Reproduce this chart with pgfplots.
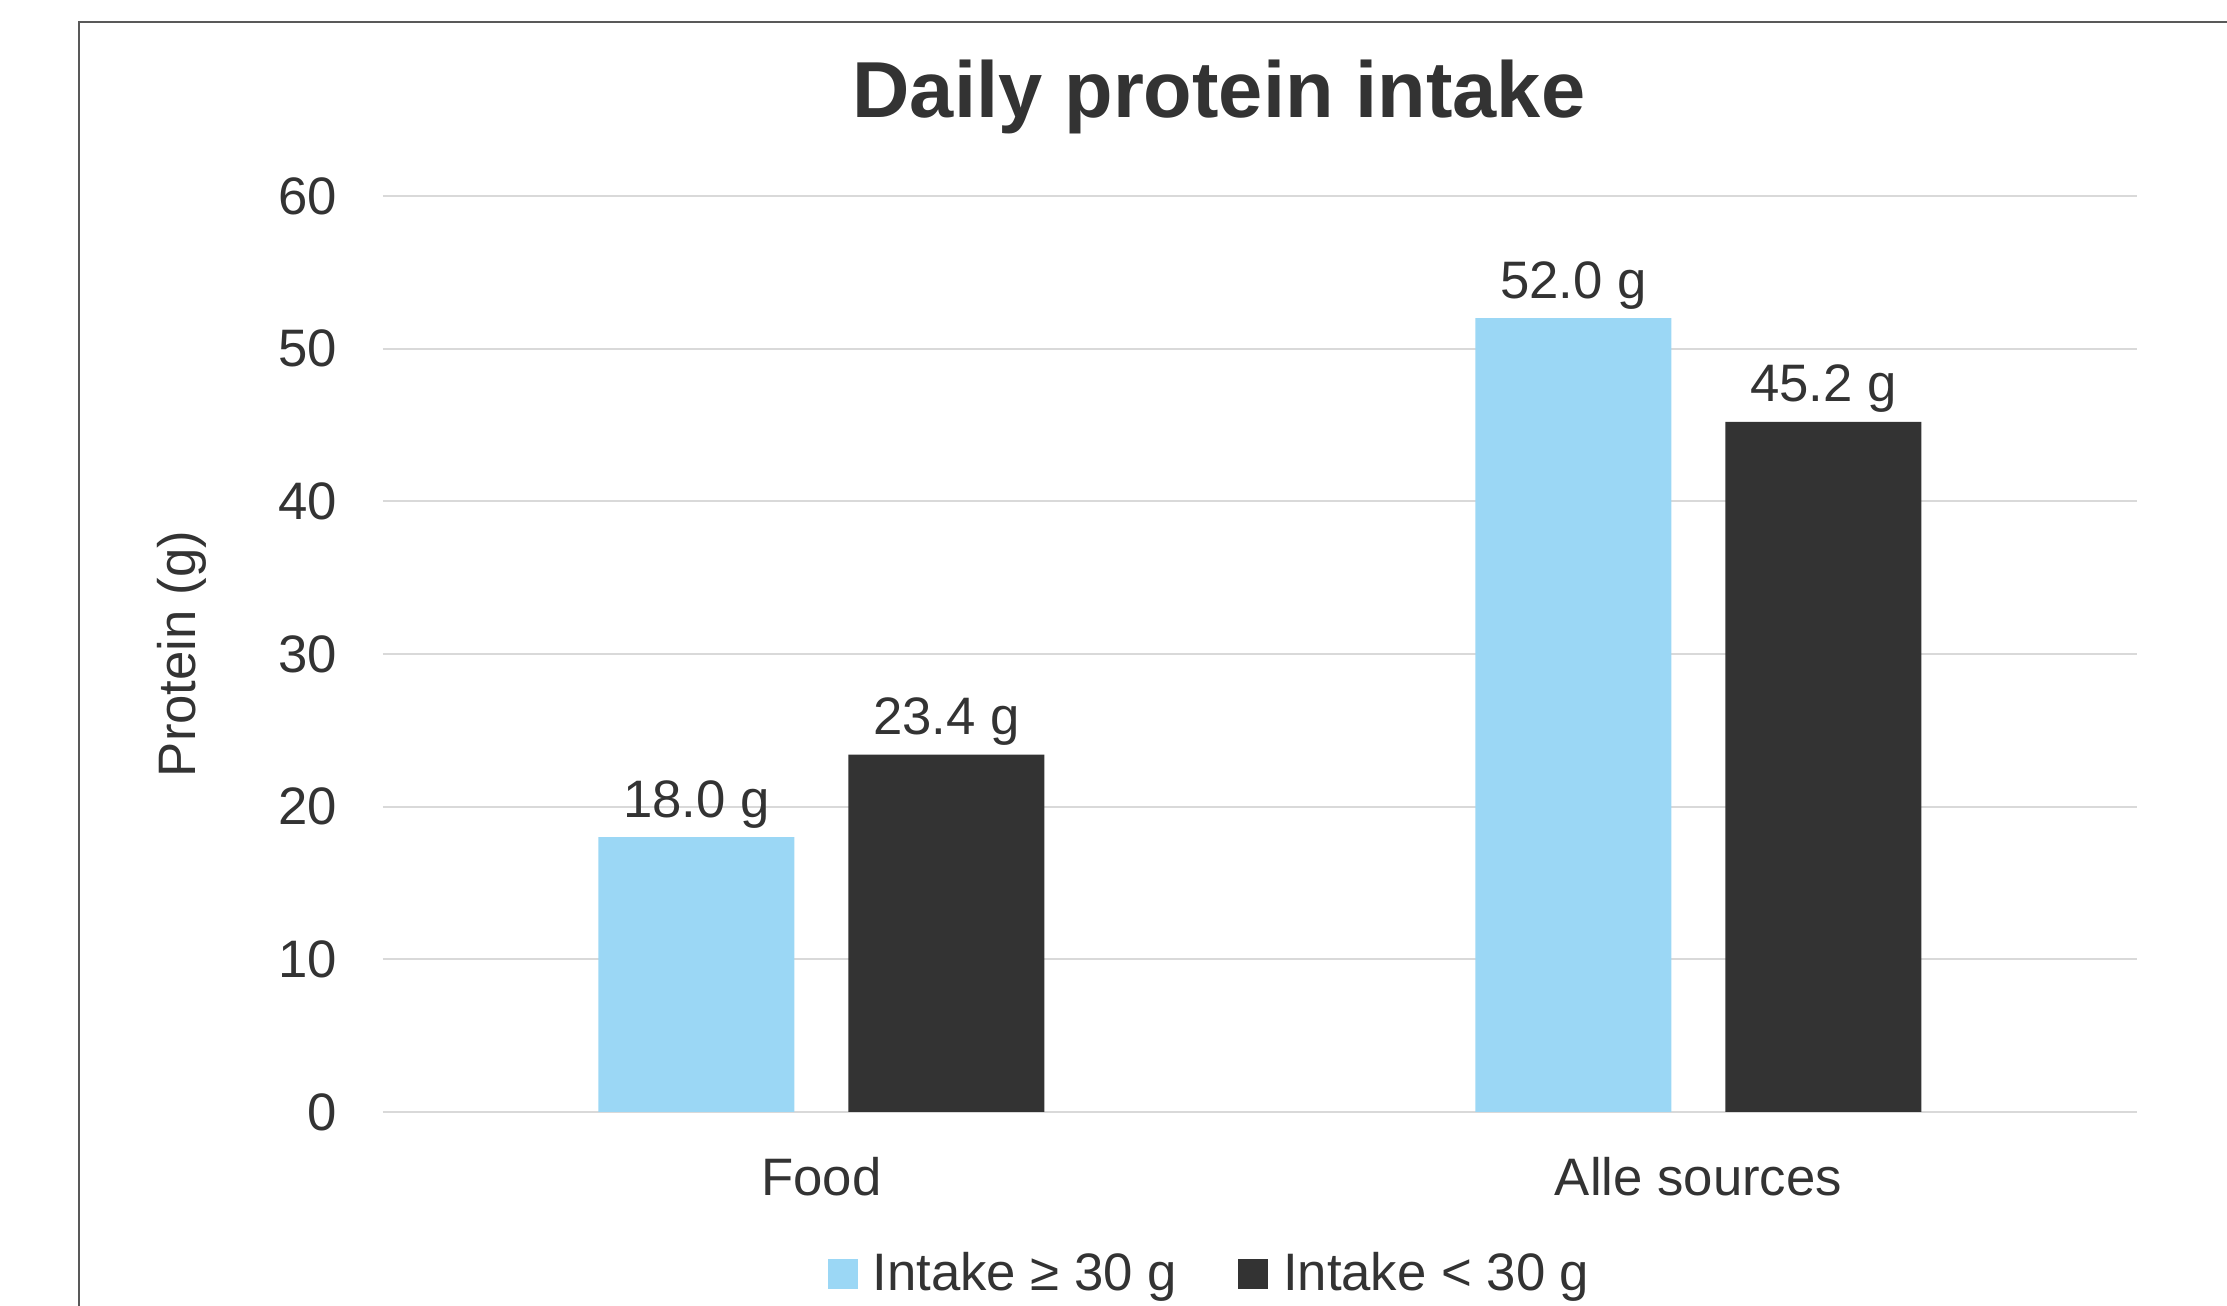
\documentclass[border=0pt]{standalone}
\usepackage{fontspec}
\setmainfont{Liberation Sans}
\usepackage{pgfplots}
\pgfplotsset{compat=1.18}
\usetikzlibrary{calc}
\definecolor{lblue}{HTML}{9BD7F5}
\definecolor{dgray}{HTML}{333333}
\definecolor{txt}{HTML}{333333}
\definecolor{gridc}{HTML}{D9D9D9}
\definecolor{framec}{HTML}{595959}
\begin{document}
\begin{tikzpicture}
\begin{axis}[
  name=ax,
  scale only axis, width=17.54cm, height=9.16cm,
  xmin=-0.5, xmax=1.5, ymin=0, ymax=60,
  xtick={0,1}, xticklabels={Food, Alle sources},
  ytick={0,10,...,60},
  axis line style={draw=none},
  major tick length=0pt,
  ymajorgrids, grid style={gridc, line width=0.02cm},
  tick label style={txt, font=\fontsize{15}{18}\selectfont},
  yticklabel style={inner sep=0pt, anchor=east, xshift=-0.45cm},
  xticklabel style={inner sep=0pt, anchor=north, yshift=-0.45cm},
  /pgf/number format/assume math mode=true,
  ylabel={Protein (g)},
  ylabel style={at={(axis description cs:-0.1146,0.5)}, anchor=center, txt, font=\fontsize{15}{18}\selectfont},
  ybar, bar width=1.96cm,
  nodes near coords={\pgfmathprintnumber[fixed,fixed zerofill,precision=1,assume math mode=true]{\pgfplotspointmeta} g},
  nodes near coords style={anchor=base, yshift=0.2cm, txt, font=\fontsize{15}{18}\selectfont},
  legend style={at={(axis description cs:0.4732,-0.1769)}, anchor=center, draw=none, fill=none,
    legend columns=2, font=\fontsize{15}{18}\selectfont, text=txt,
    nodes={inner sep=0.09cm},
    /tikz/every even column/.append style={column sep=0.52cm}},
  legend image code/.code={\fill[#1] (0cm,-0.15cm) rectangle (0.3cm,0.15cm); \path (0.36cm,0cm);},
]
\addplot[fill=lblue, draw=none, bar shift=-1.25cm] coordinates {(0,18.0) (1,52.0)};
\addplot[fill=dgray, draw=none, bar shift=1.25cm] coordinates {(0,23.4) (1,45.2)};
\legend{Intake ≥ 30 g, Intake < 30 g}
\end{axis}
\pgfresetboundingbox
\begin{scope}[shift={($(ax.south west)+(-3.83cm,-1.94cm)$)}]
\useasboundingbox (0,0) rectangle (22.27,13.06);
\draw[framec, line width=0.02cm] (0.79,-0.5) -- (0.79,12.84) -- (23,12.84);
\node[txt, font=\fontsize{22.6}{27}\selectfont\bfseries] at (12.19,12.09) {Daily protein intake};
\end{scope}
\end{tikzpicture}
\end{document}
